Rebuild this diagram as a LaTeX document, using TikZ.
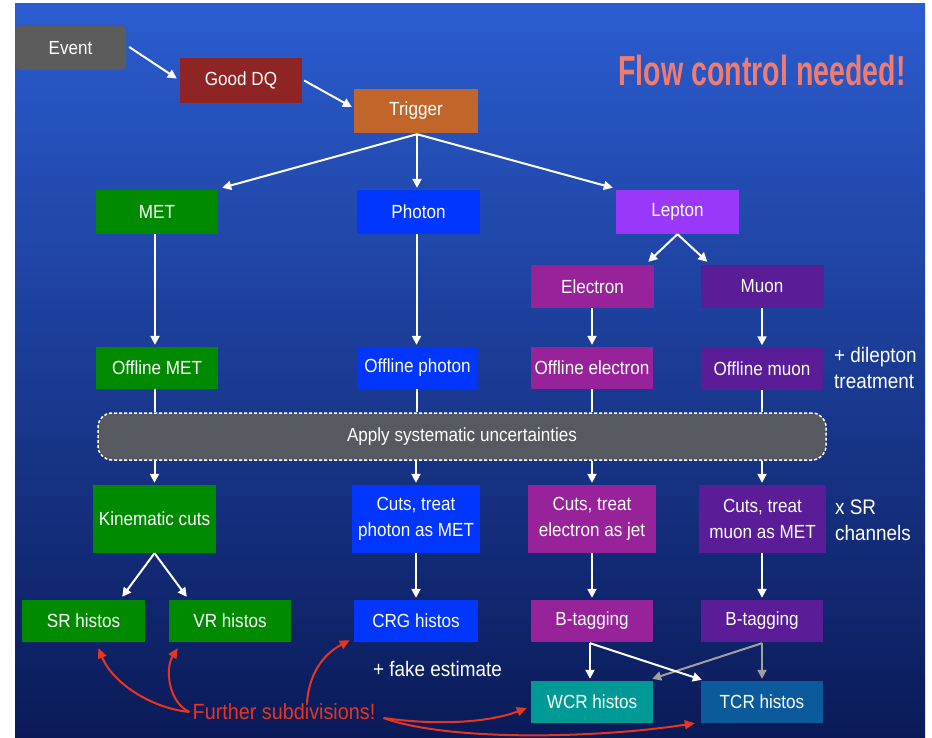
\documentclass[tikz,border=0pt]{standalone}
\usepackage{fontspec}
\setmainfont{Liberation Sans}[FakeStretch=0.9]
\newfontfamily\flowfont{Liberation Sans}[FakeStretch=0.68]
\usetikzlibrary{arrows.meta,calc}
\definecolor{bgtop}{HTML}{2B5CCF}
\definecolor{bgbot}{HTML}{0A1A58}
\definecolor{evgray}{HTML}{5C5C5C}
\definecolor{dqred}{HTML}{8E2424}
\definecolor{trigorange}{HTML}{C1652A}
\definecolor{metgreen}{HTML}{008A00}
\definecolor{phblue}{HTML}{0036FF}
\definecolor{lepviolet}{HTML}{9A38FA}
\definecolor{elmag}{HTML}{97229A}
\definecolor{mupurple}{HTML}{5A1C97}
\definecolor{wcrteal}{HTML}{009A96}
\definecolor{tcrblue}{HTML}{0A5A9C}
\definecolor{applygray}{HTML}{565A60}
\definecolor{flowred}{HTML}{F07C70}
\definecolor{subred}{HTML}{E8351E}
\definecolor{arrgray}{HTML}{A0A0A0}
\tikzset{
  box/.style={rectangle, inner sep=0pt, text=white, align=center,
    font=\fontsize{19}{26}\selectfont, minimum width=122pt, minimum height=43pt},
  sidetext/.style={inner sep=0pt, text=white, align=left,
    font=\fontsize{21}{26}\selectfont},
  wa/.style={draw=white, line width=2pt, -{Triangle[width=9pt,length=9pt]}},
  wl/.style={draw=white, line width=2pt},
  ga/.style={draw=arrgray, line width=2pt, -{Triangle[width=9pt,length=9pt]}},
  ra/.style={draw=subred, line width=2pt, -{Triangle[width=9pt,length=10pt]}}
}
\begin{document}
\begin{tikzpicture}[x=1pt,y=-1pt]
\useasboundingbox (0,0) rectangle (932,738);
\fill[white] (0,0) rectangle (932,738);
\shade[top color=bgtop, bottom color=bgbot] (15,4) rectangle (925,738);

% title
\node[text=flowred, inner sep=0pt, font=\flowfont\bfseries\fontsize{42}{42}\selectfont] (flow) at (762,70) {Flow control needed!};

% top chain
\node[box, fill=evgray, rounded corners=5pt, minimum width=111pt, minimum height=44pt] (event) at (70.5,48) {Event};
\node[box, fill=dqred, minimum height=45pt] (gooddq) at (241,80.5) {Good DQ};
\node[box, fill=trigorange, minimum width=124pt, minimum height=44pt] (trigger) at (416,111) {Trigger};

% streams
\node[box, fill=metgreen, minimum height=44pt] (met) at (157,212) {MET};
\node[box, fill=phblue, minimum width=123pt, minimum height=44pt] (photon) at (418.5,212) {Photon};
\node[box, fill=lepviolet, minimum width=123pt, minimum height=44pt] (lepton) at (677.5,212) {Lepton};
\node[box, fill=elmag, minimum width=123pt] (electron) at (592.5,286.5) {Electron};
\node[box, fill=mupurple, minimum width=123pt] (muon) at (762,286.5) {Muon};

% offline
\node[box, fill=metgreen, minimum height=42pt] (offmet) at (157,368) {Offline MET};
\node[box, fill=phblue, minimum width=121pt, minimum height=42pt] (offphoton) at (417.5,368) {Offline photon};
\node[box, fill=elmag, minimum height=42pt] (offelectron) at (592,368) {Offline electron};
\node[box, fill=mupurple, minimum height=42pt] (offmuon) at (762,368.5) {Offline muon};
\node[sidetext, anchor=west] (dilep) at (834,368) {+ dilepton\\treatment};

% systematics
\node[box, fill=applygray, draw=white, dash pattern=on 3pt off 2pt, line width=1.5pt,
  rounded corners=14pt, minimum width=728pt, minimum height=47pt] (apply) at (462,436.5) {Apply systematic uncertainties};

% cuts
\node[box, fill=metgreen, minimum width=123pt, minimum height=68pt] (kin) at (154.5,519) {Kinematic cuts};
\node[box, fill=phblue, minimum width=128pt, minimum height=68pt] (cutsph) at (416,519) {Cuts, treat\\photon as MET};
\node[box, fill=elmag, minimum width=128pt, minimum height=68pt] (cutsel) at (592,519) {Cuts, treat\\electron as jet};
\node[box, fill=mupurple, minimum width=127pt, minimum height=68pt] (cutsmu) at (762.5,519) {Cuts, treat\\muon as MET};
\node[sidetext, anchor=west] (xsr) at (835,520) {x SR\\channels};

% histos row
\node[box, fill=metgreen, minimum width=123pt, minimum height=42pt] (sr) at (83.5,621) {SR histos};
\node[box, fill=metgreen, minimum height=42pt] (vr) at (230,621) {VR histos};
\node[box, fill=phblue, minimum width=124pt, minimum height=42pt] (crg) at (416,621) {CRG histos};
\node[box, fill=elmag, minimum height=42pt] (bt1) at (592,621) {B-tagging};
\node[box, fill=mupurple, minimum height=42pt] (bt2) at (762,621) {B-tagging};
\node[sidetext] (fake) at (437.5,669) {+ fake estimate};

% bottom
\node[box, fill=wcrteal, minimum height=42pt] (wcr) at (592,702) {WCR histos};
\node[box, fill=tcrblue, minimum height=42pt] (tcr) at (762,702) {TCR histos};
\node[inner sep=0pt, text=subred, font=\fontsize{22}{26}\selectfont] (further) at (284,712) {Further subdivisions!};

% white connectors
\draw[wa] ($(event.east)+(3,-1)$) -- ($(gooddq.west)+(-3,-2)$);
\draw[wa] ($(gooddq.east)+(2,0)$) -- ($(trigger.west)+(-2,-4)$);
\draw[wa] ($(trigger.south)+(1,1)$) -- ($(met.north east)+(4,-2)$);
\draw[wa] ($(trigger.south)+(1,1)$) -- ($(trigger.south |- photon.north)+(1,-2)$);
\draw[wa] ($(trigger.south)+(1,1)$) -- ($(lepton.north west)+(-3,-2)$);
\draw[wa] (lepton.south) -- ($(electron.north east)+(-6,-3)$);
\draw[wa] (lepton.south) -- ($(muon.north west)+(7,-3)$);

\draw[wa] ($(offmet.north |- met.south)+(-2,0)$) -- ($(offmet.north)+(-2,-2)$);
\draw[wa] ($(offphoton.north |- photon.south)+(-1,0)$) -- ($(offphoton.north)+(-1,-2)$);
\draw[wa] (offelectron.north |- electron.south) -- ($(offelectron.north)+(0,-2)$);
\draw[wa] (muon.south) -- ($(offmuon.north)+(0,-2)$);

\draw[wl] ($(offmet.south)+(-2,0)$) -- ($(offmet.south |- apply.north)+(-2,0)$);
\draw[wl] ($(offphoton.south)+(-1,0)$) -- ($(offphoton.south |- apply.north)+(-1,0)$);
\draw[wl] (offelectron.south) -- (offelectron.south |- apply.north);
\draw[wl] (offmuon.south) -- (offmuon.south |- apply.north);

\draw[wa] (kin.north |- apply.south) -- ($(kin.north)+(0,-2)$);
\draw[wa] (cutsph.north |- apply.south) -- ($(cutsph.north)+(0,-2)$);
\draw[wa] (cutsel.north |- apply.south) -- ($(cutsel.north)+(0,-2)$);
\draw[wa] (offmuon.south |- apply.south) -- ($(offmuon.south |- cutsmu.north)+(0,-2)$);

\draw[wa] (kin.south) -- ($(sr.north east)+(-23,-3)$);
\draw[wa] (kin.south) -- ($(vr.north west)+(18,-3)$);
\draw[wa] (cutsph.south) -- ($(crg.north)+(0,-2)$);
\draw[wa] (cutsel.south) -- ($(bt1.north)+(0,-2)$);
\draw[wa] (bt2.north |- cutsmu.south) -- ($(bt2.north)+(0,-2)$);

\draw[ga] ($(bt2.south)+(0,1)$) -- ($(wcr.north east)+(-1,-2)$);
\draw[ga] ($(bt2.south)+(0,1)$) -- ($(tcr.north)+(0,-2)$);
\draw[wa] ($(bt1.south)+(-2,1)$) -- ($(wcr.north)+(-2,-2)$);
\draw[wa] ($(bt1.south)+(-2,1)$) -- ($(tcr.north west)+(1,-1)$);

% red curved arrows
\draw[ra] ($(further.west)+(-3,0)$) .. controls (150,708) and (112,682) .. ($(sr.south)+(15,6)$);
\draw[ra] ($(further.west)+(-3,0)$) .. controls (168,702) and (165,668) .. ($(vr.south west)+(9,6)$);
\draw[ra] ($(further.north)+(23,-1)$) .. controls (309,675) and (322,655) .. ($(crg.south west)+(-4,-2)$);
\draw[ra] ($(further.east)+(8,6)$) .. controls (440,726) and (490,722) .. ($(wcr.west)+(-4,6)$);
\draw[ra] ($(further.east)+(8,6)$) .. controls (450,742) and (600,738) .. ($(tcr.south west)+(-6,0)$);
\end{tikzpicture}
\end{document}
